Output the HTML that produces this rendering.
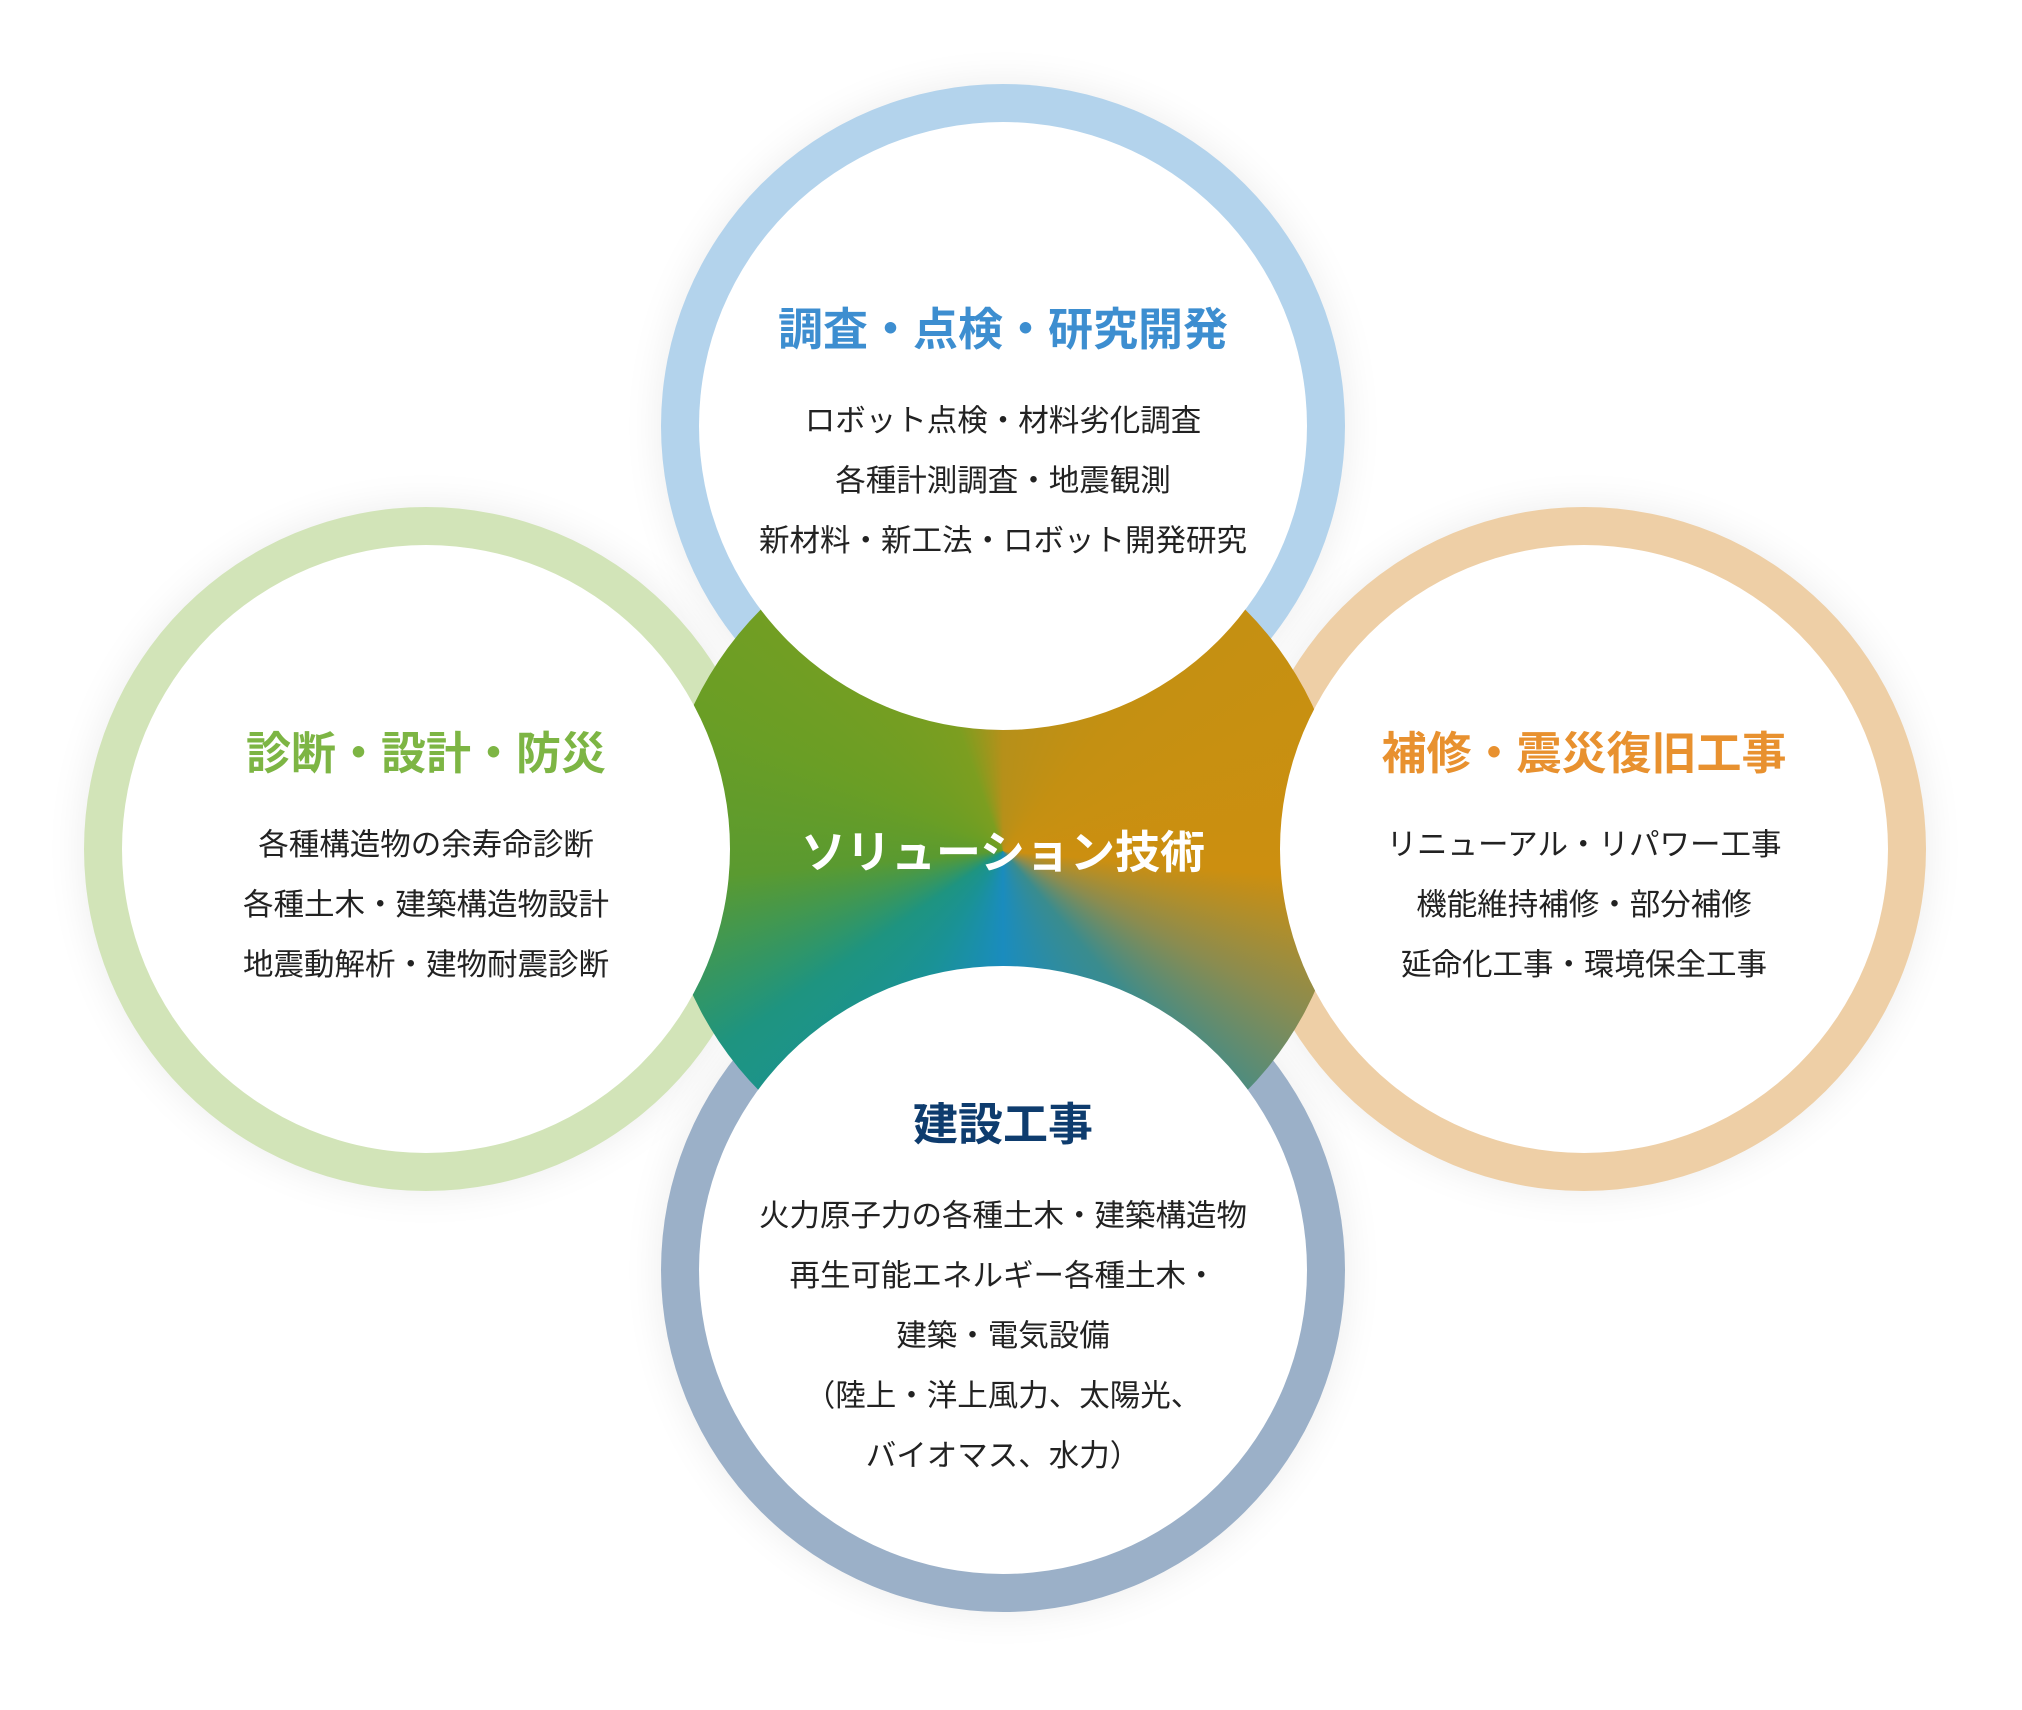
<!DOCTYPE html>
<html><head><meta charset="utf-8"><style>
html,body{margin:0;padding:0;background:#fff;}
#c{position:relative;width:2022px;height:1710px;overflow:hidden;font-family:"Liberation Sans","Noto Sans CJK JP",sans-serif;}
.ring{position:absolute;width:684px;height:684px;border-radius:50%;box-shadow:0 0 40px rgba(0,0,0,0.08);}
.in{position:absolute;width:608px;height:608px;border-radius:50%;background:#fff;}
.g{position:absolute;left:661px;top:509px;width:684px;height:684px;border-radius:50%;
background:conic-gradient(from 0deg at 50% 50%,#b6901a 0deg,#c49012 40deg,#cc8f10 95deg,#8a8c50 118deg,#3a8c8e 140deg,#1a8cbe 180deg,#1a9296 212deg,#1e9480 235deg,#5a9a30 265deg,#6a9e25 295deg,#7c9e20 340deg,#b6901a 360deg);}
.t{position:absolute;width:800px;text-align:center;font-weight:bold;font-size:45px;line-height:50px;}
.b{position:absolute;width:800px;text-align:center;font-size:30.5px;line-height:60px;color:#222;}
</style></head><body><div id="c">
<div class="ring" style="left:661px;top:84px;background:#b3d3ec"></div>
<div class="ring" style="left:84px;top:507px;background:#d2e4b8"></div>
<div class="ring" style="left:1242px;top:507px;background:#eecfa6"></div>
<div class="ring" style="left:661px;top:928px;background:#9bb0c8"></div>
<div class="g"></div>
<div class="in" style="left:699px;top:122px"></div>
<div class="in" style="left:122px;top:545px"></div>
<div class="in" style="left:1280px;top:545px"></div>
<div class="in" style="left:699px;top:966px"></div>
<div class="t" style="left:603px;top:305px;color:#3d8ed0">調査・点検・研究開発</div>
<div class="b" style="left:603px;top:391px">ロボット点検・材料劣化調査<br>各種計測調査・地震観測<br>新材料・新工法・ロボット開発研究</div>
<div class="t" style="left:26px;top:729px;color:#7db544">診断・設計・防災</div>
<div class="b" style="left:26px;top:815px">各種構造物の余寿命診断<br>各種土木・建築構造物設計<br>地震動解析・建物耐震診断</div>
<div class="t" style="left:1184px;top:729px;color:#e8912f">補修・震災復旧工事</div>
<div class="b" style="left:1184px;top:815px">リニューアル・リパワー工事<br>機能維持補修・部分補修<br>延命化工事・環境保全工事</div>
<div class="t" style="left:603px;top:828px;color:#fff">ソリューション技術</div>
<div class="t" style="left:603px;top:1100px;color:#0e3c6e">建設工事</div>
<div class="b" style="left:603px;top:1186px">火力原子力の各種土木・建築構造物<br>再生可能エネルギー各種土木・<br>建築・電気設備<br>（陸上・洋上風力、太陽光、<br>バイオマス、水力）</div>
</div></body></html>
